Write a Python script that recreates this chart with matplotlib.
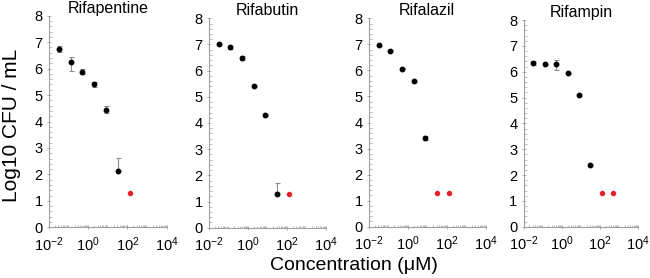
import matplotlib.pyplot as plt
from matplotlib.ticker import FixedLocator, LogLocator, MultipleLocator

plt.rcParams['font.family'] = ['Liberation Sans', 'DejaVu Sans']
plt.rcParams['mathtext.default'] = 'regular'

# concentrations (uM), 4-fold dilutions
conc = [0.03125, 0.125, 0.5, 2, 8, 32, 128, 512]

# Rifapentine
rifapentine_cfu = [6.74, 6.24, 5.88, 5.40, 4.45, 2.13]
rifapentine_err_lo = [0.10, 0.32, 0.09, 0.10, 0.12, 0.0]
rifapentine_err_hi = [0.10, 0.19, 0.09, 0.10, 0.12, 0.50]
rifapentine_red_conc = [128]
rifapentine_red_cfu = [1.31]

# Rifabutin
rifabutin_cfu = [7.00, 6.90, 6.47, 5.40, 4.30, 1.30]
rifabutin_err_lo = [0.03, 0.06, 0.08, 0.03, 0.03, 0.0]
rifabutin_err_hi = [0.03, 0.06, 0.08, 0.03, 0.03, 0.39]
rifabutin_red_conc = [128]
rifabutin_red_cfu = [1.30]

# Rifalazil
rifalazil_cfu = [6.97, 6.75, 6.07, 5.58, 3.40]
rifalazil_err_lo = [0.02, 0.02, 0.03, 0.02, 0.07]
rifalazil_err_hi = [0.02, 0.02, 0.03, 0.02, 0.07]
rifalazil_red_conc = [32, 128]
rifalazil_red_cfu = [1.30, 1.30]

# Rifampin
rifampin_cfu = [6.33, 6.28, 6.28, 5.93, 5.10, 2.37]
rifampin_err_lo = [0.08, 0.03, 0.20, 0.03, 0.03, 0.03]
rifampin_err_hi = [0.08, 0.03, 0.17, 0.03, 0.03, 0.03]
rifampin_red_conc = [128, 512]
rifampin_red_cfu = [1.30, 1.30]

panneaux = [
    ("Rifapentine", rifapentine_cfu, rifapentine_err_lo, rifapentine_err_hi, rifapentine_red_conc, rifapentine_red_cfu),
    ("Rifabutin", rifabutin_cfu, rifabutin_err_lo, rifabutin_err_hi, rifabutin_red_conc, rifabutin_red_cfu),
    ("Rifalazil", rifalazil_cfu, rifalazil_err_lo, rifalazil_err_hi, rifalazil_red_conc, rifalazil_red_cfu),
    ("Rifampin", rifampin_cfu, rifampin_err_lo, rifampin_err_hi, rifampin_red_conc, rifampin_red_cfu),
]

# positions des axes en pixels (gauche, droite, haut, bas)
W, H = 650, 278
boites = [(49, 166.7, 15.7, 227.3), (209, 325.7, 18.3, 227.7), (369, 485.5, 18.3, 226.7), (523.7, 638, 20, 226.7)]

fig = plt.figure(figsize=(6.5, 2.78), dpi=100)
gris = '#a0a0a0'

for (titre, cfu, elo, ehi, rc, rcfu), (g, d, h, b) in zip(panneaux, boites):
    ax = fig.add_axes([g / W, 1 - b / H, (d - g) / W, (b - h) / H])
    x = conc[:len(cfu)]
    ax.errorbar(x, cfu, yerr=[elo, ehi], fmt='none', ecolor='#8c8c8c', elinewidth=0.8, capsize=1.8, capthick=0.8, zorder=2)
    ax.plot(x, cfu, 'o', color='black', markersize=3.2, zorder=3)
    ax.plot(rc, rcfu, 'o', color='#e8202a', markersize=2.9, zorder=3)
    ax.set_xscale('log')
    ax.set_xlim(1e-2, 1e4)
    ax.set_ylim(0, 8)
    ax.xaxis.set_major_locator(FixedLocator([1e-2, 1, 1e2, 1e4]))
    ax.xaxis.set_minor_locator(LogLocator(base=10, subs=range(2, 10), numticks=20))
    ax.yaxis.set_major_locator(MultipleLocator(1))
    ax.yaxis.set_minor_locator(MultipleLocator(0.2))
    for cote in ['top', 'right']:
        ax.spines[cote].set_visible(False)
    for cote in ['left', 'bottom']:
        ax.spines[cote].set_color(gris)
        ax.spines[cote].set_linewidth(0.8)
    ax.tick_params(which='major', direction='inout', length=3, width=0.6, color=gris, labelsize=10.5)
    ax.tick_params(axis='x', which='major', pad=4)
    ax.tick_params(axis='y', which='major', pad=3)
    ax.tick_params(which='minor', direction='in', length=1.8, width=0.5, color=gris)
    ax.set_title(titre, fontsize=11.5, pad=2)

fig.text(12 / W, 1 - 125 / H, 'Log10 CFU / mL', rotation=90, ha='center', va='center', fontsize=15)
fig.text(354 / W, 1 - 265 / H, 'Concentration (\u03bcM)', ha='center', va='center', fontsize=14)

fig.savefig('out.png', dpi=100)
